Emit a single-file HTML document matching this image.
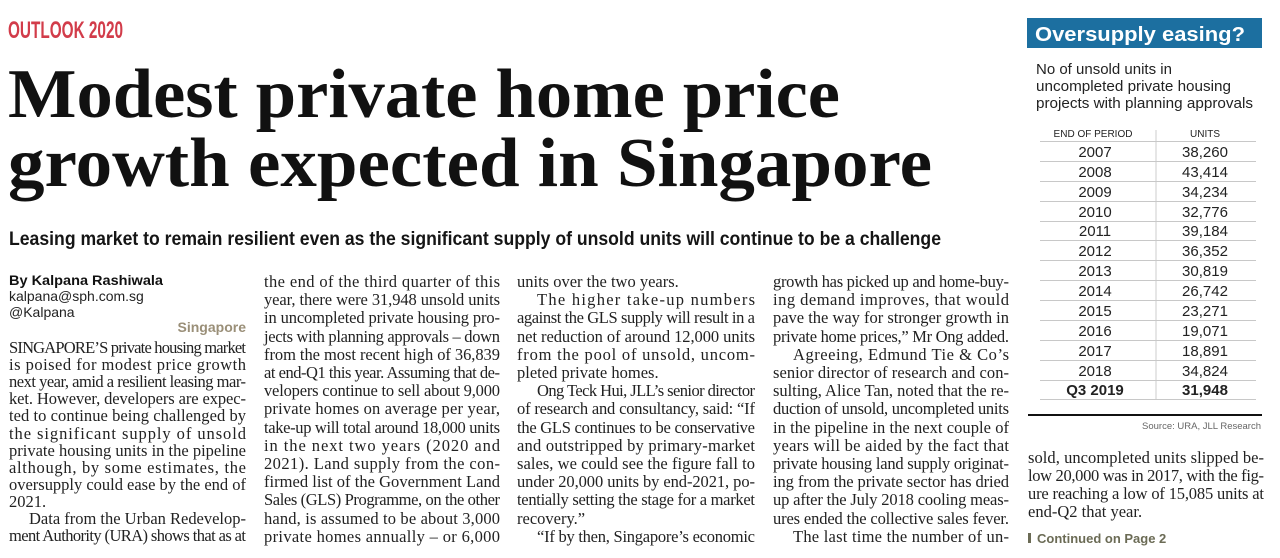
<!DOCTYPE html>
<html><head><meta charset="utf-8"><style>
html,body{margin:0;padding:0;background:#fff;width:1280px;height:558px;overflow:hidden}
svg{display:block}
.b{font-family:"Liberation Serif",serif;font-size:16.5px;fill:#222}
.s{font-family:"Liberation Sans",sans-serif}
</style></head><body>
<svg width="1280" height="558" viewBox="0 0 1280 558" xmlns="http://www.w3.org/2000/svg">
<text x="8" y="38" class="s" font-size="24" font-weight="bold" fill="#d23c4a" textLength="115" lengthAdjust="spacingAndGlyphs">OUTLOOK 2020</text>
<text x="8" y="117" font-family="Liberation Serif,serif" font-size="70" font-weight="bold" fill="#111" textLength="832" lengthAdjust="spacingAndGlyphs">Modest private home price</text>
<text x="8" y="186" font-family="Liberation Serif,serif" font-size="70" font-weight="bold" fill="#111" textLength="924" lengthAdjust="spacingAndGlyphs">growth expected in Singapore</text>
<text x="9" y="245" class="s" font-size="19" font-weight="bold" fill="#151515" textLength="932" lengthAdjust="spacingAndGlyphs">Leasing market to remain resilient even as the significant supply of unsold units will continue to be a challenge</text>

<text x="9" y="285" class="s" font-size="13.5" font-weight="bold" fill="#111" textLength="154" lengthAdjust="spacingAndGlyphs">By Kalpana Rashiwala</text>
<text x="9" y="301" class="s" font-size="14" fill="#222">kalpana@sph.com.sg</text>
<text x="9" y="317" class="s" font-size="14" fill="#222">@Kalpana</text>
<text x="246" y="332" class="s" font-size="14" font-weight="bold" fill="#9a8f78" text-anchor="end">Singapore</text>

<g class="b">
<text x="9" y="353" textLength="237" lengthAdjust="spacing">SINGAPORE’S private housing market</text>
<text x="9" y="370" textLength="237" lengthAdjust="spacing">is poised for modest price growth</text>
<text x="9" y="387" textLength="237" lengthAdjust="spacing">next year, amid a resilient leasing mar-</text>
<text x="9" y="404" textLength="237" lengthAdjust="spacing">ket. However, developers are expec-</text>
<text x="9" y="421" textLength="237" lengthAdjust="spacing">ted to continue being challenged by</text>
<text x="9" y="439" textLength="237" lengthAdjust="spacing">the significant supply of unsold</text>
<text x="9" y="456" textLength="237" lengthAdjust="spacing">private housing units in the pipeline</text>
<text x="9" y="473" textLength="237" lengthAdjust="spacing">although, by some estimates, the</text>
<text x="9" y="490" textLength="237" lengthAdjust="spacing">oversupply could ease by the end of</text>
<text x="9" y="507">2021.</text>
<text x="29" y="524" textLength="217" lengthAdjust="spacing">Data from the Urban Redevelop-</text>
<text x="9" y="541" textLength="237" lengthAdjust="spacing">ment Authority (URA) shows that as at</text>
</g>

<g class="b">
<text x="264" y="287" textLength="236" lengthAdjust="spacing">the end of the third quarter of this</text>
<text x="264" y="305" textLength="236" lengthAdjust="spacing">year, there were 31,948 unsold units</text>
<text x="264" y="323" textLength="236" lengthAdjust="spacing">in uncompleted private housing pro-</text>
<text x="264" y="342" textLength="236" lengthAdjust="spacing">jects with planning approvals – down</text>
<text x="264" y="360" textLength="236" lengthAdjust="spacing">from the most recent high of 36,839</text>
<text x="264" y="378" textLength="236" lengthAdjust="spacing">at end-Q1 this year. Assuming that de-</text>
<text x="264" y="396" textLength="236" lengthAdjust="spacing">velopers continue to sell about 9,000</text>
<text x="264" y="414" textLength="236" lengthAdjust="spacing">private homes on average per year,</text>
<text x="264" y="433" textLength="236" lengthAdjust="spacing">take-up will total around 18,000 units</text>
<text x="264" y="451" textLength="236" lengthAdjust="spacing">in the next two years (2020 and</text>
<text x="264" y="469" textLength="236" lengthAdjust="spacing">2021). Land supply from the con-</text>
<text x="264" y="487" textLength="236" lengthAdjust="spacing">firmed list of the Government Land</text>
<text x="264" y="505" textLength="236" lengthAdjust="spacing">Sales (GLS) Programme, on the other</text>
<text x="264" y="524" textLength="236" lengthAdjust="spacing">hand, is assumed to be about 3,000</text>
<text x="264" y="542" textLength="236" lengthAdjust="spacing">private homes annually – or 6,000</text>
</g>

<g class="b">
<text x="517" y="287">units over the two years.</text>
<text x="537" y="305" textLength="218" lengthAdjust="spacing">The higher take-up numbers</text>
<text x="517" y="323" textLength="238" lengthAdjust="spacing">against the GLS supply will result in a</text>
<text x="517" y="342" textLength="238" lengthAdjust="spacing">net reduction of around 12,000 units</text>
<text x="517" y="360" textLength="238" lengthAdjust="spacing">from the pool of unsold, uncom-</text>
<text x="517" y="378">pleted private homes.</text>
<text x="537" y="396" textLength="218" lengthAdjust="spacing">Ong Teck Hui, JLL’s senior director</text>
<text x="517" y="414" textLength="238" lengthAdjust="spacing">of research and consultancy, said: “If</text>
<text x="517" y="433" textLength="238" lengthAdjust="spacing">the GLS continues to be conservative</text>
<text x="517" y="451" textLength="238" lengthAdjust="spacing">and outstripped by primary-market</text>
<text x="517" y="469" textLength="238" lengthAdjust="spacing">sales, we could see the figure fall to</text>
<text x="517" y="487" textLength="238" lengthAdjust="spacing">under 20,000 units by end-2021, po-</text>
<text x="517" y="505" textLength="238" lengthAdjust="spacing">tentially setting the stage for a market</text>
<text x="517" y="524">recovery.”</text>
<text x="537" y="542" textLength="218" lengthAdjust="spacing">“If by then, Singapore’s economic</text>
</g>

<g class="b">
<text x="773" y="287" textLength="236" lengthAdjust="spacing">growth has picked up and home-buy-</text>
<text x="773" y="305" textLength="236" lengthAdjust="spacing">ing demand improves, that would</text>
<text x="773" y="323" textLength="236" lengthAdjust="spacing">pave the way for stronger growth in</text>
<text x="773" y="342" textLength="236" lengthAdjust="spacing">private home prices,” Mr Ong added.</text>
<text x="793" y="360" textLength="216" lengthAdjust="spacing">Agreeing, Edmund Tie &amp; Co’s</text>
<text x="773" y="378" textLength="236" lengthAdjust="spacing">senior director of research and con-</text>
<text x="773" y="396" textLength="236" lengthAdjust="spacing">sulting, Alice Tan, noted that the re-</text>
<text x="773" y="414" textLength="236" lengthAdjust="spacing">duction of unsold, uncompleted units</text>
<text x="773" y="433" textLength="236" lengthAdjust="spacing">in the pipeline in the next couple of</text>
<text x="773" y="451" textLength="236" lengthAdjust="spacing">years will be aided by the fact that</text>
<text x="773" y="469" textLength="236" lengthAdjust="spacing">private housing land supply originat-</text>
<text x="773" y="487" textLength="236" lengthAdjust="spacing">ing from the private sector has dried</text>
<text x="773" y="505" textLength="236" lengthAdjust="spacing">up after the July 2018 cooling meas-</text>
<text x="773" y="524" textLength="236" lengthAdjust="spacing">ures ended the collective sales fever.</text>
<text x="793" y="542" textLength="216" lengthAdjust="spacing">The last time the number of un-</text>
</g>

<rect x="1027" y="18" width="235" height="30" fill="#1c6fa0"/>
<text x="1035" y="41" class="s" font-size="20" font-weight="bold" fill="#fff" textLength="210" lengthAdjust="spacingAndGlyphs">Oversupply easing?</text>
<g class="s" font-size="15" fill="#222">
<text x="1036" y="74">No of unsold units in</text>
<text x="1036" y="91" textLength="195" lengthAdjust="spacingAndGlyphs">uncompleted private housing</text>
<text x="1036" y="108" textLength="217" lengthAdjust="spacingAndGlyphs">projects with planning approvals</text>
</g>
<g class="s" font-size="10" fill="#222" text-anchor="middle">
<text x="1093" y="137">END OF PERIOD</text>
<text x="1205" y="137">UNITS</text>
</g>
<line x1="1156" y1="130" x2="1156" y2="399" stroke="#ccc" stroke-width="1"/>
<g stroke="#c8c8c8" stroke-width="1">
<line x1="1040" x2="1256" y1="141.5" y2="141.5"/>
<line x1="1040" x2="1256" y1="161.5" y2="161.5"/>
<line x1="1040" x2="1256" y1="181.5" y2="181.5"/>
<line x1="1040" x2="1256" y1="201.5" y2="201.5"/>
<line x1="1040" x2="1256" y1="221.5" y2="221.5"/>
<line x1="1040" x2="1256" y1="240.5" y2="240.5"/>
<line x1="1040" x2="1256" y1="260.5" y2="260.5"/>
<line x1="1040" x2="1256" y1="280.5" y2="280.5"/>
<line x1="1040" x2="1256" y1="300.5" y2="300.5"/>
<line x1="1040" x2="1256" y1="320.5" y2="320.5"/>
<line x1="1040" x2="1256" y1="340.5" y2="340.5"/>
<line x1="1040" x2="1256" y1="360.5" y2="360.5"/>
<line x1="1040" x2="1256" y1="380.5" y2="380.5"/>
<line x1="1040" x2="1256" y1="399.5" y2="399.5"/>
</g>
<g class="s" font-size="15" fill="#222" text-anchor="middle">
<text x="1095" y="157">2007</text><text x="1205" y="157">38,260</text>
<text x="1095" y="177">2008</text><text x="1205" y="177">43,414</text>
<text x="1095" y="197">2009</text><text x="1205" y="197">34,234</text>
<text x="1095" y="217">2010</text><text x="1205" y="217">32,776</text>
<text x="1095" y="236">2011</text><text x="1205" y="236">39,184</text>
<text x="1095" y="256">2012</text><text x="1205" y="256">36,352</text>
<text x="1095" y="276">2013</text><text x="1205" y="276">30,819</text>
<text x="1095" y="296">2014</text><text x="1205" y="296">26,742</text>
<text x="1095" y="316">2015</text><text x="1205" y="316">23,271</text>
<text x="1095" y="336">2016</text><text x="1205" y="336">19,071</text>
<text x="1095" y="356">2017</text><text x="1205" y="356">18,891</text>
<text x="1095" y="376">2018</text><text x="1205" y="376">34,824</text>
<text x="1095" y="395" font-weight="bold">Q3 2019</text><text x="1205" y="395" font-weight="bold">31,948</text>
</g>
<rect x="1028" y="414" width="234" height="2" fill="#111"/>
<text x="1261" y="429" class="s" font-size="9.5" fill="#666" text-anchor="end">Source: URA, JLL Research</text>

<g class="b">
<text x="1028" y="463" textLength="236" lengthAdjust="spacing">sold, uncompleted units slipped be-</text>
<text x="1028" y="481" textLength="236" lengthAdjust="spacing">low 20,000 was in 2017, with the fig-</text>
<text x="1028" y="499" textLength="236" lengthAdjust="spacing">ure reaching a low of 15,085 units at</text>
<text x="1028" y="517">end-Q2 that year.</text>
</g>
<rect x="1028" y="533" width="3" height="10" fill="#6b6b55"/>
<text x="1037" y="543" class="s" font-size="13" font-weight="bold" fill="#6b6b55">Continued on Page 2</text>
</svg>
</body></html>
